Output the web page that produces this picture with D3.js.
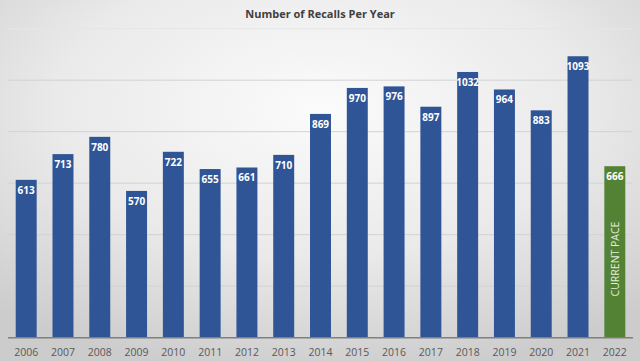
<!DOCTYPE html>
<html>
<head>
<meta charset="utf-8">
<script src="https://cdn.jsdelivr.net/npm/d3@7"></script>
<style>
  html, body { margin: 0; padding: 0; }
  svg { display: block; }
</style>
</head>
<body>
<svg id="chart" width="640" height="361"></svg>
<script>
const years = ["2006","2007","2008","2009","2010","2011","2012","2013","2014","2015","2016","2017","2018","2019","2020","2021","2022"];
const recalls = [613,713,780,570,722,655,661,710,869,970,976,897,1032,964,883,1093,666];
const gridTicks = [0,200,400,600,800,1000,1200];
const title = "Number of Recalls Per Year";
const paceYear = "2022";
const paceLabel = "CURRENT PACE";

const W = 640, H = 361;
const svg = d3.select("#chart");
const defs = svg.append("defs");
const grad = defs.append("radialGradient").attr("id","bg")
  .attr("cx","50%").attr("cy","30%").attr("r","75%");
grad.append("stop").attr("offset","0%").attr("stop-color","#fbfbfb");
grad.append("stop").attr("offset","55%").attr("stop-color","#eaeaea");
grad.append("stop").attr("offset","100%").attr("stop-color","#cccccc");
svg.append("rect").attr("width",W).attr("height",H).attr("fill","url(#bg)");

const x = d3.scaleBand().domain(years).range([7.8, 633.2]).paddingInner(0.43).paddingOuter(0.215);
const y = d3.scaleLinear().domain([0,1200]).range([337.7, 28.7]);

// gridlines
svg.append("g").selectAll("line").data(gridTicks.slice(1)).join("line")
  .attr("x1", 8).attr("x2", 632)
  .attr("y1", d => y(d)).attr("y2", d => y(d))
  .attr("stroke", d => d === 1200 ? "#e6e6e6" : "#d2d2d2").attr("stroke-width", 1);

// bars
const data = years.map((yr,i) => ({year: yr, value: recalls[i]}));
svg.append("g").selectAll("rect").data(data).join("rect")
  .attr("x", d => x(d.year)).attr("width", x.bandwidth())
  .attr("y", d => y(d.value)).attr("height", d => y(0) - y(d.value))
  .attr("fill", d => d.year === paceYear ? "#548235" : "#2f5597");

// baseline
svg.append("line").attr("x1", 8).attr("x2", 633)
  .attr("y1", y(0)).attr("y2", y(0))
  .attr("stroke", "#7f7f7f").attr("stroke-width", 1.5);

// value labels
svg.append("g").selectAll("text").data(data).join("text")
  .attr("x", d => x(d.year) + x.bandwidth()/2)
  .attr("y", d => y(d.value) + 14)
  .attr("text-anchor","middle")
  .attr("font-family","'Open Sans', sans-serif")
  .attr("font-weight","bold").attr("font-size","10px")
  .attr("fill","#ffffff")
  .text(d => d.value);

// pace label
const px = x(paceYear) + x.bandwidth()/2;
svg.append("text")
  .attr("transform", `translate(${px + 4},259) rotate(-90)`)
  .attr("text-anchor","middle")
  .attr("font-family","'Open Sans', sans-serif")
  .attr("font-size","10.5px")
  .attr("fill","#e2efd9")
  .text(paceLabel);

// x axis
const xAxis = d3.axisBottom(x).tickSize(0).tickPadding(0);
const gx = svg.append("g").attr("transform", `translate(0,${y(0)})`).call(xAxis);
gx.select(".domain").remove();
gx.selectAll("text")
  .attr("dy", null).attr("y", 18.5)
  .attr("font-family","'Open Sans', sans-serif")
  .attr("font-size","10.5px")
  .attr("fill","#595959");

// title
svg.append("text").attr("x", 320).attr("y", 18)
  .attr("text-anchor","middle")
  .attr("font-family","'Open Sans', sans-serif")
  .attr("font-weight","bold").attr("font-size","11px")
  .attr("fill","#404040")
  .text(title);
</script>
</body>
</html>
